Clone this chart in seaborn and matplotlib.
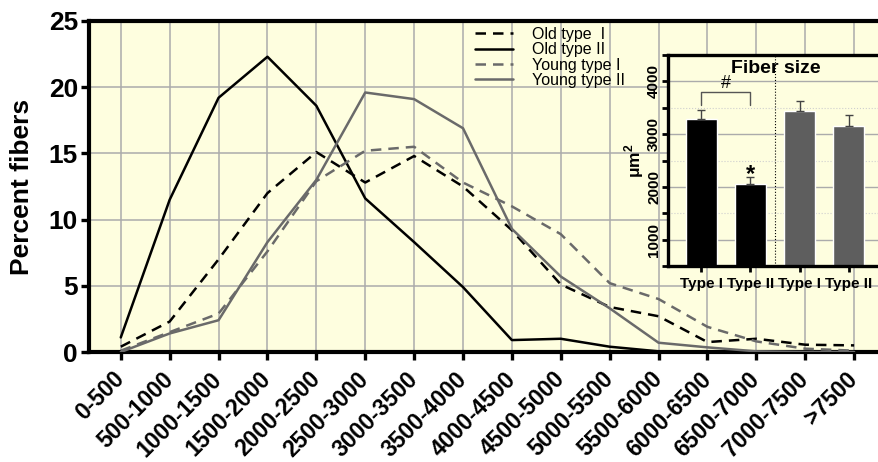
import numpy as np
import pandas as pd
import seaborn as sns
from matplotlib import pyplot as plt
from matplotlib.ticker import MultipleLocator

# %%
# fiber size bins (x axis of the main plot)
bins = ["0-500", "500-1000", "1000-1500", "1500-2000", "2000-2500", "2500-3000",
        "3000-3500", "3500-4000", "4000-4500", "4500-5000", "5000-5500",
        "5500-6000", "6000-6500", "6500-7000", "7000-7500", ">7500"]

old_type_I = [0.4, 2.3, 7.0, 12.0, 15.1, 12.8, 14.8, 12.5, 9.2, 5.1, 3.4, 2.7, 0.75, 1.0, 0.55, 0.5]
old_type_II = [1.1, 11.5, 19.2, 22.3, 18.6, 11.6, 8.3, 4.9, 0.9, 1.0, 0.4, 0.05, 0, 0, 0, 0]
young_type_I = [0.1, 1.5, 2.9, 7.6, 12.9, 15.2, 15.5, 12.8, 11.0, 8.9, 5.2, 4.0, 1.9, 0.8, 0.25, 0.1]
young_type_II = [0, 1.4, 2.4, 8.3, 13.0, 19.6, 19.1, 16.9, 9.3, 5.7, 3.3, 0.7, 0.35, 0.05, 0, 0]

series_names = ["Old type  I", "Old type II", "Young type I", "Young type II"]

# inset: mean fiber size (um^2) with upper error
bar_groups = ["Old I", "Old II", "Young I", "Young II"]
bar_labels = ["Type I", "Type II", "Type I", "Type II"]
bar_means = [3280, 2050, 3430, 3160]
bar_err = [180, 140, 195, 200]

# %%
sns.set_style("ticks")
plt.rcParams["font.family"] = ["Liberation Sans", "DejaVu Sans"]
plt.rcParams["mathtext.fontset"] = "custom"
plt.rcParams["mathtext.bf"] = "Liberation Sans:bold"
plt.rcParams["text.color"] = "black"
plt.rcParams["axes.labelcolor"] = "black"
plt.rcParams["xtick.color"] = "black"
plt.rcParams["ytick.color"] = "black"

bg = "#FEFEDF"
gridc = "#ABABAB"
gray = "#6A6A6A"

long_df = pd.DataFrame({
    "pos": np.tile(np.arange(len(bins)), 4),
    "pct": old_type_I + old_type_II + young_type_I + young_type_II,
    "group": np.repeat(series_names, len(bins)),
})

fig = plt.figure(figsize=(8.79, 4.62), dpi=100)
W, H = 879, 462
ax = fig.add_axes([89 / W, (H - 352) / H, (882 - 89) / W, (352 - 21) / H])
ax.set_facecolor(bg)

sns.lineplot(
    data=long_df, x="pos", y="pct", hue="group", style="group",
    hue_order=series_names, style_order=series_names,
    palette={series_names[0]: "black", series_names[1]: "black",
             series_names[2]: gray, series_names[3]: gray},
    dashes={series_names[0]: (4.2, 2.8), series_names[1]: "",
            series_names[2]: (4.2, 2.8), series_names[3]: ""},
    linewidth=1.8, errorbar=None, legend=False, ax=ax, zorder=3,
)

ax.set_xlim(-0.65, 15.57)
ax.set_ylim(0, 25)
ax.set_xticks(range(len(bins)))
ax.set_xticklabels(bins, rotation=45, ha="right", va="center",
                   rotation_mode="anchor", fontsize=16.5, fontweight="bold")
ax.set_yticks([0, 5, 10, 15, 20, 25])
ax.set_yticklabels(["0", "5", "10", "15", "20", "25"], fontsize=19, fontweight="bold")
ax.set_xlabel("")
ax.set_ylabel("Percent fibers", fontsize=19, fontweight="bold")
ax.yaxis.set_label_coords(-0.069, 0.5)
ax.grid(True, color=gridc, linewidth=1.1, zorder=0)
ax.set_axisbelow(True)
for s in ax.spines.values():
    s.set_linewidth(3)
    s.set_color("black")
ax.tick_params(axis="both", length=6, width=2.4, color="black", direction="out")
ax.tick_params(axis="x", pad=11)
ax.tick_params(axis="y", pad=2)

lines = ax.get_lines()[:4]
leg = ax.legend(lines, series_names, loc="upper left", bbox_to_anchor=(467 / W, 1 - 19 / H),
                bbox_transform=fig.transFigure, frameon=False, fontsize=11.5,
                handlelength=2.4, handletextpad=1.2, labelspacing=0.02, borderpad=0)
for t in leg.get_texts():
    t.set_color("black")

# %%
# inset bar chart
ins = fig.add_axes([668 / W, (H - 266) / H, (882 - 668) / W, (266 - 55) / H])
ins.set_facecolor(bg)
ins.set_ylim(500, 4500)
ins.yaxis.set_major_locator(MultipleLocator(1000))
ins.yaxis.set_minor_locator(MultipleLocator(500))
ins.grid(True, which="major", color=gridc, linewidth=1.0)
ins.grid(True, which="minor", axis="y", color="#CFCFCF", linewidth=0.8, linestyle=":")
ins.set_axisbelow(True)

bar_df = pd.DataFrame({"group": bar_groups, "mean": bar_means})
sns.barplot(data=bar_df, x="group", y="mean", hue="group", order=bar_groups,
            palette=["black", "black", "#5E5E5E", "#5E5E5E"], width=0.64,
            legend=False, ax=ins, zorder=2)
ins.errorbar(range(4), bar_means, yerr=[[0] * 4, bar_err], fmt="none",
             ecolor="#444444", elinewidth=1, capsize=3, capthick=1, zorder=3)
ins.set_xlim(-0.68, 3.68)

ins.set_xticks(range(4))
ins.set_xticklabels(bar_labels, fontsize=11, fontweight="bold")
ins.set_yticks([1000, 2000, 3000, 4000])
ins.set_yticklabels(["1000", "2000", "3000", "4000"], rotation=90, va="center",
                    fontsize=11, fontweight="bold")
ins.set_xlabel("")
ins.set_ylabel("μm$^\\mathbf{2}$", fontsize=12.5, fontweight="bold")
ins.yaxis.set_label_coords(-0.105, 0.5)
for s in ins.spines.values():
    s.set_linewidth(2.4)
    s.set_color("black")
ins.tick_params(axis="both", which="both", length=4, width=2, direction="out")
ins.tick_params(axis="x", pad=4)
ins.tick_params(axis="y", pad=1)

ins.axvline(1.5, color="black", linewidth=0.8, linestyle=":", zorder=3)
ins.plot([0, 0, 1, 1], [3560, 3800, 3800, 3560], color="#555555", linewidth=1, zorder=3)
ins.text(0.5, 3800, "#", ha="center", va="bottom", fontsize=13)
ins.text(1, 2240, "*", ha="center", va="center", fontsize=17, fontweight="bold")
ins.text(1.52, 4235, "Fiber size", ha="center", va="center", fontsize=14,
         fontweight="bold", zorder=4)

fig.savefig("out.png", dpi=100, facecolor="white")
